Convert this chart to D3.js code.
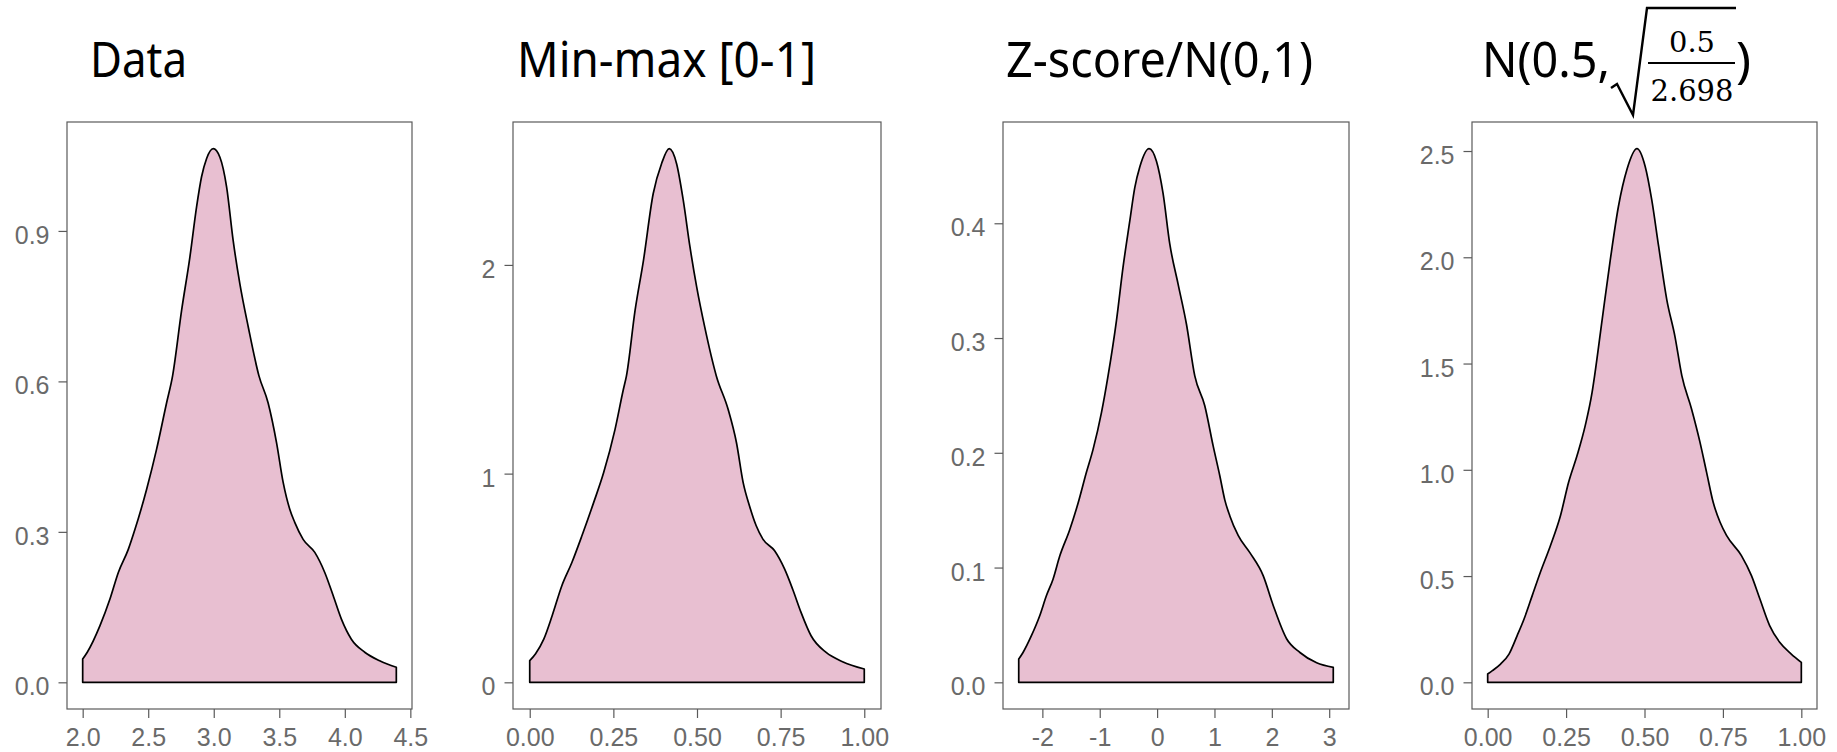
<!DOCTYPE html>
<html>
<head>
<meta charset="utf-8">
<script src="https://cdn.jsdelivr.net/npm/d3@7"></script>
<style>
  html, body { margin: 0; padding: 0; background: #fff; }
  svg { display: block; }
</style>
</head>
<body>
<svg id="chart" width="1837" height="752"></svg>
<script>
// ---------- Data ----------
const titles = ["Data", "Min-max [0-1]", "Z-score/N(0,1)", "N(0.5,"];

const dataX = [2.000,2.035,2.132,2.208,2.272,2.348,2.399,2.488,2.564,2.640,2.686,2.755,2.818,2.869,2.907,2.945,2.996,3.047,3.098,3.148,3.199,3.263,3.345,3.415,3.479,3.530,3.580,3.618,3.682,3.771,3.847,3.911,3.974,4.050,4.152,4.266,4.393];
const dataY = [0.0465,0.060,0.113,0.166,0.219,0.265,0.305,0.385,0.465,0.557,0.611,0.742,0.848,0.948,1.008,1.044,1.064,1.047,0.988,0.881,0.795,0.709,0.611,0.557,0.478,0.398,0.345,0.319,0.285,0.259,0.219,0.173,0.126,0.086,0.060,0.043,0.030];

const minmaxX = [0.000,0.017,0.042,0.067,0.096,0.126,0.156,0.191,0.221,0.255,0.280,0.289,0.315,0.340,0.369,0.394,0.417,0.439,0.459,0.479,0.499,0.523,0.558,0.593,0.618,0.638,0.657,0.677,0.697,0.732,0.762,0.786,0.811,0.841,0.886,0.935,1.000];
const minmaxY = [0.104,0.136,0.207,0.319,0.463,0.574,0.702,0.861,1.005,1.212,1.404,1.467,1.783,2.022,2.341,2.485,2.557,2.485,2.309,2.086,1.895,1.703,1.467,1.308,1.148,0.957,0.845,0.750,0.686,0.630,0.542,0.446,0.335,0.223,0.143,0.099,0.064];

const zscoreX = [-2.412,-2.337,-2.191,-2.046,-1.930,-1.814,-1.697,-1.523,-1.378,-1.232,-1.116,-0.970,-0.855,-0.709,-0.593,-0.476,-0.389,-0.302,-0.140,-0.011,0.104,0.221,0.366,0.512,0.657,0.831,0.977,1.093,1.180,1.268,1.413,1.617,1.849,2.024,2.257,2.490,2.781,3.071];
const zscoreY = [0.0203,0.026,0.0406,0.058,0.0754,0.0899,0.110,0.133,0.156,0.183,0.203,0.235,0.267,0.315,0.362,0.402,0.431,0.449,0.465,0.454,0.426,0.382,0.347,0.312,0.267,0.241,0.206,0.180,0.159,0.145,0.128,0.113,0.093,0.067,0.038,0.026,0.017,0.013];

const normX = [0.000,0.015,0.041,0.068,0.094,0.116,0.142,0.168,0.200,0.232,0.258,0.285,0.311,0.333,0.341,0.365,0.391,0.417,0.444,0.476,0.502,0.523,0.545,0.571,0.597,0.619,0.650,0.677,0.698,0.719,0.741,0.762,0.809,0.841,0.868,0.899,0.931,0.968,1.000];
const normY = [0.039,0.055,0.086,0.133,0.220,0.298,0.408,0.518,0.643,0.784,0.941,1.067,1.208,1.365,1.443,1.707,1.989,2.240,2.413,2.511,2.428,2.271,2.052,1.801,1.628,1.443,1.286,1.129,0.988,0.847,0.753,0.690,0.596,0.502,0.392,0.267,0.188,0.133,0.094];

const xTicks1 = [2.0,2.5,3.0,3.5,4.0,4.5];
const yTicks1 = [0.0,0.3,0.6,0.9];
const xTicks2 = [0,0.25,0.5,0.75,1.0];
const yTicks2 = [0,1,2];
const xTicks3 = [-2,-1,0,1,2,3];
const yTicks3 = [0.0,0.1,0.2,0.3,0.4];
const xTicks4 = [0,0.25,0.5,0.75,1.0];
const yTicks4 = [0.0,0.5,1.0,1.5,2.0,2.5];
const fracNum = "0.5";
const fracDen = "2.698";

// ---------- Layout ----------
const TOP = 122, BOTTOM = 709;
const panels = [
  {title: titles[0], xs: dataX, ys: dataY, left: 67, right: 412, xt: xTicks1, yt: yTicks1,
   xf: d3.format(".1f"), yf: d3.format(".1f"), tx: 90, tw: 97},
  {title: titles[1], xs: minmaxX, ys: minmaxY, left: 513, right: 881, xt: xTicks2, yt: yTicks2,
   xf: d3.format(".2f"), yf: d3.format("d"), tx: 517, tw: 299},
  {title: titles[2], xs: zscoreX, ys: zscoreY, left: 1003, right: 1349, xt: xTicks3, yt: yTicks3,
   xf: d => String(d), yf: d3.format(".1f"), tx: 1006, tw: 307},
  {title: titles[3], xs: normX, ys: normY, left: 1472, right: 1817, xt: xTicks4, yt: yTicks4,
   xf: d3.format(".2f"), yf: d3.format(".1f"), tx: 1482, tw: 128}
];

const svg = d3.select("#chart");
const FILL = "#e8bfd1";
const AXIS = "#5a5a5a";
const TICKTXT = "#6a6a6a";
const TITLEFONT = "'Noto Sans', 'Open Sans', sans-serif";
const TICKFONT = "'Liberation Sans', Arial, sans-serif";

panels.forEach(p => {
  const pts = p.xs.map((x, i) => [x, p.ys[i]]);
  const xmin = d3.min(p.xs), xmax = d3.max(p.xs);
  const ymax = d3.max(p.ys);
  const xpad = (xmax - xmin) * 0.05, ypad = ymax * 0.05;
  const x = d3.scaleLinear().domain([xmin - xpad, xmax + xpad]).range([p.left, p.right]);
  const y = d3.scaleLinear().domain([-ypad, ymax + ypad]).range([BOTTOM, TOP]);

  const g = svg.append("g");

  // density area
  const area = d3.area()
    .x(d => x(d[0]))
    .y0(y(0))
    .y1(d => y(d[1]))
    .curve(d3.curveMonotoneX);
  g.append("path")
    .attr("d", area(pts))
    .attr("fill", FILL)
    .attr("stroke", "#000")
    .attr("stroke-width", 1.7)
    .attr("stroke-linejoin", "round");

  // panel box
  g.append("rect")
    .attr("x", p.left).attr("y", TOP)
    .attr("width", p.right - p.left).attr("height", BOTTOM - TOP)
    .attr("fill", "none").attr("stroke", AXIS).attr("stroke-width", 1.2);

  // axes
  const ya = g.append("g").attr("transform", `translate(${p.left},0)`)
    .call(d3.axisLeft(y).tickValues(p.yt).tickFormat(p.yf).tickSize(8.5).tickPadding(9));
  const xa = g.append("g").attr("transform", `translate(0,${BOTTOM})`)
    .call(d3.axisBottom(x).tickValues(p.xt).tickFormat(p.xf).tickSize(9).tickPadding(10));
  [ya, xa].forEach(a => {
    a.select(".domain").remove();
    a.selectAll(".tick line").attr("stroke", AXIS).attr("stroke-width", 1.2);
    a.selectAll(".tick text")
      .attr("fill", TICKTXT)
      .style("font-family", TICKFONT)
      .style("font-size", "25px");
  });
  ya.selectAll(".tick text").attr("dy", "0.5em");

  // title
  svg.append("text")
    .attr("x", p.tx).attr("y", 77)
    .attr("textLength", p.tw).attr("lengthAdjust", "spacingAndGlyphs")
    .style("font-family", TITLEFONT).style("font-size", "50px")
    .attr("fill", "#000")
    .text(p.title);
});

// ---------- math part of the 4th title ----------
const m = svg.append("g");
m.append("path")
  .attr("d", "M1611,88 L1617,84 L1633,115 L1647,8 L1736,8")
  .attr("fill", "none").attr("stroke", "#000").attr("stroke-width", 2.4)
  .attr("stroke-linejoin", "miter");
m.append("text")
  .attr("x", 1692).attr("y", 52).attr("text-anchor", "middle")
  .style("font-family", "'DejaVu Serif', 'Liberation Serif', serif").style("font-size", "28px")
  .attr("textLength", 46).attr("lengthAdjust", "spacingAndGlyphs")
  .text(fracNum);
m.append("line")
  .attr("x1", 1648).attr("x2", 1735).attr("y1", 63).attr("y2", 63)
  .attr("stroke", "#000").attr("stroke-width", 2);
m.append("text")
  .attr("x", 1692).attr("y", 101).attr("text-anchor", "middle")
  .style("font-family", "'DejaVu Serif', 'Liberation Serif', serif").style("font-size", "29px")
  .attr("textLength", 83).attr("lengthAdjust", "spacingAndGlyphs")
  .text(fracDen);
m.append("text")
  .attr("x", 1736).attr("y", 77)
  .style("font-family", TITLEFONT).style("font-size", "50px")
  .text(")");
</script>
</body>
</html>
